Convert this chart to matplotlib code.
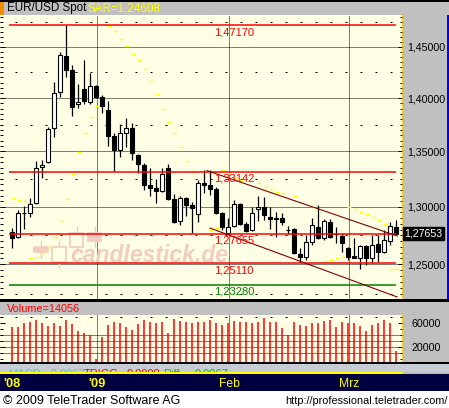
import numpy as np
import matplotlib
matplotlib.use("Agg")
import matplotlib.pyplot as plt
from matplotlib.patches import Rectangle
from matplotlib.ticker import MultipleLocator, FixedLocator, NullFormatter, FuncFormatter

plt.rcParams['font.family'] = ['Liberation Sans', 'DejaVu Sans']

W, H = 449, 408

# EUR/USD daily candles, early Dec 2008 .. mid Mar 2009
opens = [1.2781, 1.2738, 1.2942, 1.2942, 1.3031, 1.3355, 1.3406, 1.3715, 1.4056, 1.4406,
         1.4271, 1.3942, 1.4085, 1.3963, 1.4116, 1.4008, 1.3887, 1.3643, 1.3517, 1.3674,
         1.3715, 1.3465, 1.3376, 1.3195, 1.3168, 1.3144, 1.3346, 1.3069, 1.2877, 1.3078,
         1.3016, 1.2933, 1.3216, 1.3192, 1.3156, 1.2942, 1.2772, 1.2834, 1.3022, 1.2845,
         1.2796, 1.2977, 1.3001, 1.2912, 1.2898, 1.2898, 1.2798, 1.2805, 1.2585, 1.2565,
         1.2694, 1.2825, 1.2724, 1.2868, 1.2763, 1.2744, 1.2637, 1.2571, 1.2557, 1.2657,
         1.2557, 1.2672, 1.2607, 1.2700, 1.2825]
highs = [1.2811, 1.2971, 1.3009, 1.3080, 1.3413, 1.3419, 1.3731, 1.4152, 1.4447, 1.4717,
         1.4320, 1.4135, 1.4369, 1.4242, 1.4126, 1.4030, 1.3973, 1.3668, 1.3755, 1.3809,
         1.3762, 1.3477, 1.3390, 1.3346, 1.3249, 1.3346, 1.3385, 1.3112, 1.3096, 1.3084,
         1.3039, 1.3240, 1.3330, 1.3330, 1.3177, 1.2956, 1.2901, 1.3060, 1.3031, 1.2868,
         1.3001, 1.3096, 1.3090, 1.3001, 1.2956, 1.2942, 1.2831, 1.2811, 1.2637, 1.2753,
         1.2898, 1.3016, 1.2889, 1.2889, 1.2825, 1.2767, 1.2651, 1.2724, 1.2666, 1.2666,
         1.2753, 1.2753, 1.2796, 1.2868, 1.2883]
lows = [1.2642, 1.2729, 1.2805, 1.2911, 1.3025, 1.3261, 1.3392, 1.3636, 1.4008, 1.4200,
        1.3831, 1.3903, 1.3949, 1.3944, 1.4006, 1.3859, 1.3553, 1.3321, 1.3447, 1.3544,
        1.3422, 1.3305, 1.3150, 1.3096, 1.3036, 1.3135, 1.3060, 1.2859, 1.2840, 1.2918,
        1.2767, 1.2868, 1.3123, 1.3105, 1.2936, 1.2796, 1.2764, 1.2825, 1.2837, 1.2776,
        1.2790, 1.2877, 1.2883, 1.2802, 1.2738, 1.2840, 1.2761, 1.2585, 1.2522, 1.2537,
        1.2666, 1.2715, 1.2709, 1.2724, 1.2680, 1.2607, 1.2541, 1.2551, 1.2461, 1.2494,
        1.2509, 1.2522, 1.2594, 1.2666, 1.2760]
closes = [1.2729, 1.2942, 1.2945, 1.3022, 1.3346, 1.3373, 1.3706, 1.4046, 1.4416, 1.4274,
          1.3919, 1.3963, 1.3973, 1.4116, 1.4013, 1.3925, 1.3646, 1.3517, 1.3668, 1.3715,
          1.3489, 1.3383, 1.3195, 1.3170, 1.3144, 1.3293, 1.3069, 1.2865, 1.3075, 1.3018,
          1.2991, 1.3210, 1.3197, 1.3159, 1.2942, 1.2825, 1.2825, 1.3022, 1.2848, 1.2787,
          1.2942, 1.3001, 1.2927, 1.2895, 1.2892, 1.2868, 1.2794, 1.2594, 1.2565, 1.2694,
          1.2840, 1.2724, 1.2877, 1.2738, 1.2759, 1.2686, 1.2565, 1.2557, 1.2657, 1.2557,
          1.2666, 1.2607, 1.2709, 1.2831, 1.27653]
volumes = [54300, 54300, 60000, 61700, 65500, 60000, 55500, 61000, 55500, 65500,
           58300, 47700, 43300, 40500, 0, 36700, 57200, 61700, 61000, 53300,
           48800, 58300, 65500, 61700, 60000, 61700, 43300, 66700, 64300, 61700,
           60000, 61700, 61700, 65500, 60000, 57200, 60000, 63800, 61700, 61700,
           60000, 61700, 68300, 62700, 61700, 51700, 40500, 61700, 57200, 56000,
           60000, 60000, 64300, 65500, 54300, 62700, 60000, 60000, 55500, 47700,
           57200, 60000, 65500, 60000, 14056]
nan = np.nan
sar = [1.3075, 1.3060, 1.3051, 1.2552, 1.2560, 1.2594, 1.2646, 1.2732, 1.2872, 1.3066,
       1.3294, 1.3493, 1.3668, 1.3821, 1.3925, nan, 1.4711, 1.4657, 1.4576, 1.4507,
       1.4427, 1.4366, 1.4278, 1.4165, 1.4037, 1.3896, 1.3774, 1.3671, 1.3542, 1.3413,
       1.3309, nan, nan, 1.2793, 1.2811, 1.3330, 1.3300, 1.3254, 1.3242, nan,
       nan, 1.3210, 1.3174, 1.3156, 1.3135, 1.3120, nan, 1.3099, nan, nan,
       1.2995, nan, 1.2531, 1.2537, 1.2551, 1.2560, 1.2995, 1.2980, 1.2957, 1.2934,
       1.2913, 1.2883, 1.2848, 1.2461, 1.24608]

levels = [1.47170, 1.33142, 1.27655, 1.25110, 1.23280]
level_colors = ['#ff0000', '#ff0000', '#ff0000', '#ff0000', '#008000']
upper_trend_x = [32.5, 64.2]
upper_trend_y = [1.3325, 1.2744]
lower_trend_x = [33.0, 64.2]
lower_trend_y = [1.2813, 1.2225]

month_pos = [0, 14.17, 36.17, 56.17]
month_labels = ["'08", "'09", "Feb", "Mrz"]
month_bold = [True, True, False, False]

n = len(closes)
days = np.arange(n)
xlim = (-2.0, 65.17)

fig = plt.figure(figsize=(W / 100, H / 100), dpi=100, facecolor='#c0c0c0')


def px_rect(x0, y0, x1, y1):
    return [x0 / W, 1 - y1 / H, (x1 - x0) / W, (y1 - y0) / H]


def fig_box(x0, y0, x1, y1, color, z=0.5):
    fig.patches.append(Rectangle((x0 / W, 1 - y1 / H), (x1 - x0) / W, (y1 - y0) / H,
                                 transform=fig.transFigure, facecolor=color,
                                 edgecolor='none', zorder=z))


# frame pieces
fig_box(0, 0, W, 1.5, 'black')
fig_box(0, 1.5, 4, 15, '#f08c00')
fig_box(0, 299, W, 301.5, 'black')
fig_box(0, 362, W, 363.5, 'black')
fig_box(0, 363.5, W, 372, '#c8ccd4')
fig_box(0, 372, 403, 373.5, '#ffff00')
fig_box(0, 373.5, W, 391, '#000040')
fig_box(0, 391, W, H, 'white')
fig_box(446.5, 15, 448.5, 299, '#0000ff')

fig.text(7 / W, 1 - 8.5 / H, "EUR/USD Spot", fontsize=8.4, va='center', color='black')
fig.text(88 / W, 1 - 8.5 / H, "SAR=1,24608", fontsize=8.4, va='center', color='#ffff00')
fig.text(7 / W, 1 - 308.5 / H, "Volume=14056", fontsize=7.8, va='center', color='#ff0000')
fig.text(3 / W, 1 - 403.5 / H, "\u00a9 2009 TeleTrader Software AG", fontsize=9, va='baseline')
fig.text(448 / W, 1 - 403.5 / H, "http://professional.teletrader.com/", fontsize=7.8,
         va='baseline', ha='right')

# ---------- price pane ----------
ax = fig.add_axes(px_rect(0, 15, 403, 299))
ax.set_facecolor('#ffffe6')
ax.set_yscale('log')
ax.set_xlim(*xlim)
ax.set_ylim(1.2208, 1.4817)
for s in ['left', 'top', 'bottom']:
    ax.spines[s].set_visible(False)
ax.spines['right'].set_color('#f0c000')
ax.spines['right'].set_linewidth(1.1)

for lv in [1.25, 1.30, 1.35, 1.40, 1.45]:
    ax.axhline(lv, color='black', lw=0.72, ls=(0, (1, 1)), zorder=1)
for lv in [1.225, 1.275, 1.325, 1.375, 1.425, 1.475]:
    ax.axhline(lv, color='black', lw=0.72, ls=(0, (2, 13)), zorder=1)
for p in month_pos[1:]:
    ax.axvline(p, color='black', lw=0.72, ls=(0, (1, 1)), zorder=1)

# watermark
ax.text(70 / 403, (299 - 262) / 284, "candlestick.de", transform=ax.transAxes,
        fontsize=16.5, fontweight='bold', fontstyle='italic', color='#f0cdbf',
        va='baseline', ha='left', zorder=1.5)
logo = [(34, 246.7, 48, 251.7, True), (52, 247, 66, 261.7, False),
        (70, 232.7, 83, 247.3, False), (88, 233, 101, 240.7, True)]
for x0, y0, x1, y1, filled in logo:
    xc = (x0 + x1) / 2 / 403
    ax.plot([xc, xc], [(299 - y1 - 6) / 284, (299 - y0 + 6) / 284], transform=ax.transAxes,
            color='#f0cdbf', lw=1, zorder=1.5)
    ax.add_patch(Rectangle((x0 / 403, (299 - y1) / 284), (x1 - x0) / 403, (y1 - y0) / 284,
                           transform=ax.transAxes, facecolor='#f0cdbf' if filled else '#ffffe6',
                           edgecolor='#f0cdbf', lw=1.2, zorder=1.6))

# SAR
ax.plot(days + 0.2, sar, ls='none', marker='_', ms=3.3, mew=1.0, color='#ffff00', zorder=2)

# candles
ax.vlines(days, lows, highs, color='black', lw=0.9, zorder=3)
for i in range(n):
    o, c = opens[i], closes[i]
    h = max(abs(c - o), 0.0002)
    ax.bar(i, h, bottom=min(o, c), width=0.72,
           facecolor='white' if c >= o else 'black', edgecolor='black', lw=0.8, zorder=4)

# support / resistance lines
for lv, col in zip(levels, level_colors):
    ax.hlines(lv, -0.5, 64.0, color=col, lw=1.1, zorder=5)
    ax.annotate(f"{lv:.5f}".replace('.', ','), xy=(33.7, lv), xytext=(0, -1.5),
                textcoords='offset points', color=col, fontsize=8, va='top', ha='left',
                zorder=6)
ax.plot(upper_trend_x, upper_trend_y, color='#800000', lw=0.8, zorder=5)
ax.plot(lower_trend_x, lower_trend_y, color='#800000', lw=0.8, zorder=5)

ax.set_xticks([])
ax.yaxis.set_major_locator(MultipleLocator(0.05))
ax.yaxis.set_minor_locator(MultipleLocator(0.005))
ax.yaxis.set_major_formatter(FuncFormatter(lambda v, pos: f"{v:.5f}".replace('.', ',')))
ax.yaxis.set_minor_formatter(NullFormatter())
ax.tick_params(axis='y', which='both', direction='in', left=True, right=True,
               labelleft=False, labelright=True, labelsize=7.7, pad=3, width=0.72)
ax.tick_params(axis='y', which='major', length=3.6)
ax.tick_params(axis='y', which='minor', length=2.2)
ax.text(1.004, closes[-1], f"{closes[-1]:.5f}".replace('.', ','),
        transform=ax.get_yaxis_transform(), color='white', fontsize=7.7, va='center',
        ha='left', bbox=dict(boxstyle='square,pad=0.15', fc='black', ec='black'),
        clip_on=False, zorder=7)

# ---------- volume pane ----------
av = fig.add_axes(px_rect(0, 315, 403, 362))
av.set_facecolor('#ffffe6')
av.set_xlim(*xlim)
av.set_ylim(-4500, 73850)
for s in ['left', 'top', 'bottom']:
    av.spines[s].set_visible(False)
av.spines['right'].set_color('#f0c000')
av.spines['right'].set_linewidth(1.1)
for lv in [10000, 20000, 30000, 40000]:
    av.axhline(lv, color='black', lw=0.72, ls=(0, (1, 1)), zorder=1)
av.axhline(70000, color='black', lw=0.72, ls=(0, (2, 13)), zorder=1)
for p in month_pos[1:]:
    av.axvline(p, color='black', lw=0.72, ls=(0, (1, 1)), zorder=1)
av.vlines(days, -4500, volumes, color='#ff0000', lw=1.1, zorder=3)
av.set_xticks([])
av.yaxis.set_major_locator(FixedLocator([20000, 60000]))
av.yaxis.set_minor_locator(MultipleLocator(10000))
av.yaxis.set_major_formatter(FuncFormatter(lambda v, pos: f"{v:.0f}"))
av.tick_params(axis='y', which='both', direction='in', left=True, right=True,
               labelleft=False, labelright=True, labelsize=7.7, pad=6, width=0.72)
av.tick_params(axis='y', which='major', length=3.6)
av.tick_params(axis='y', which='minor', length=2.2)

# ---------- indicator strip (cut off) ----------
am = fig.add_axes(px_rect(0, 363.5, W, 372))
am.set_zorder(2)
am.set_axis_off()
for txt, x, col in [("MACD", 8, '#40d0d0'), ("-0.0067", 47, '#40d0d0'),
                    ("TRIGG", 84, '#ff0000'), ("0.0000", 127, '#ff0000'),
                    ("Diff", 163, '#00c000'), ("0.0067", 195, '#00c000')]:
    am.text(x / W, -0.6, txt, transform=am.transAxes, color=col, fontsize=8,
            va='baseline', ha='left', clip_on=True)

# ---------- date bar ----------
ad = fig.add_axes(px_rect(0, 373.5, 403, 391))
ad.set_zorder(2)
ad.set_axis_off()
ad.set_xlim(*xlim)
ad.set_ylim(0, 1)
for p, lab, b in zip(month_pos, month_labels, month_bold):
    ad.text(p, (391 - 386.7) / 17.5, lab, color='#ffff00', ha='center', va='baseline',
            fontsize=9.3 if b else 8.7, fontweight='bold' if b else 'normal', clip_on=False)

fig.savefig('out.png', dpi=100)
